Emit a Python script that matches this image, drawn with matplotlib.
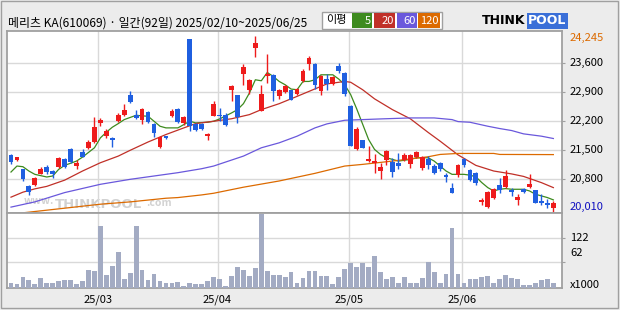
import matplotlib.pyplot as plt
from matplotlib.patches import Rectangle

plt.rcParams['font.family'] = ['Noto Sans CJK KR', 'DejaVu Sans']

# Datos (92 dias, 2025/02/10 ~ 2025/06/25)
title = "메리츠 KA(610069) · 일간(92일) 2025/02/10~2025/06/25"

opens = [21384, 21272, 21040, 20640, 20664, 20936, 21096, 21000, 21096, 21296,
         21536, 21112, 21456, 21544, 21696, 22152, 21856, 21800, 22200, 22344,
         22840, 22360, 22240, 22416, 22144, 21576, 21840, 22320, 22504, 22160,
         24180, 22144, 22136, 21856, 22336, 22360, 22360, 22944, 22824, 23344,
         22960, 23976, 22456, 23296, 23320, 22816, 22912, 22944, 22856, 23160,
         23576, 23584, 22936, 23224, 23096, 23536, 23368, 22576, 21520, 21736,
         21240, 21200, 21000, 21256, 21224, 21184, 21256, 21168, 21344, 21072,
         21296, 21120, 21184, 20904, 20584, 20904, 21280, 21016, 20960, 20256,
         20136, 20352, 20656, 20616, 20536, 20304, 20560, 20608, 20536, 20280,
         20240, 20120]
highs = [21400, 21350, 21060, 20670, 20850, 21096, 21136, 21020, 21336, 21320,
         21560, 21256, 21520, 21760, 22296, 22280, 22024, 21810, 22400, 22624,
         22936, 22480, 22520, 22440, 22160, 21840, 21850, 22496, 22528, 22336,
         24180, 22160, 22150, 21920, 22696, 22520, 22400, 23064, 22840, 23584,
         23220, 24245, 23080, 23816, 23340, 22980, 23080, 22960, 23000, 23456,
         23784, 23600, 23320, 23344, 23280, 23600, 23380, 22590, 22056, 21750,
         21600, 21400, 21184, 21496, 21304, 21424, 21440, 21400, 21472, 21360,
         21360, 21160, 21216, 20960, 20704, 21176, 21304, 21040, 20984, 20360,
         20520, 20600, 20840, 21016, 20592, 20440, 20600, 20920, 20552, 20440,
         20336, 20280]
lows = [21160, 21250, 20760, 20424, 20650, 20920, 20920, 20840, 21080, 21080,
        21200, 21040, 21330, 21530, 21680, 22096, 21800, 21576, 22190, 22330,
        22640, 22260, 22136, 22160, 21816, 21560, 21780, 22300, 22160, 22120,
        21960, 21960, 22000, 21744, 22320, 22200, 22096, 22696, 22160, 23080,
        22864, 23760, 22440, 23120, 22680, 22736, 22880, 22704, 22840, 23150,
        23440, 22984, 22840, 22960, 23072, 23360, 22816, 21600, 21504, 21552,
        21216, 20944, 20800, 21136, 20856, 21040, 21240, 21072, 21320, 21024,
        21040, 20920, 21000, 20736, 20464, 20856, 21104, 20760, 20656, 20184,
        20112, 20320, 20480, 20600, 20400, 20184, 20480, 20592, 20224, 20184,
        20120, 20010]
closes = [21216, 21336, 20800, 20504, 20824, 21040, 20976, 20920, 21320, 21104,
          21216, 21200, 21344, 21696, 22064, 22240, 21960, 21744, 22360, 22480,
          22656, 22272, 22504, 22176, 21920, 21824, 21792, 22456, 22176, 22304,
          22096, 21984, 22016, 21904, 22624, 22320, 22120, 23040, 22296, 23496,
          23200, 24080, 22864, 23344, 22936, 22960, 23056, 22704, 22984, 23416,
          23736, 23064, 23296, 23104, 23256, 23400, 22856, 21600, 22024, 21552,
          21280, 21232, 21096, 21472, 20976, 21120, 21376, 21376, 21456, 21344,
          21144, 20944, 21040, 20864, 20480, 21144, 21136, 20784, 20720, 20304,
          20496, 20576, 20544, 20880, 20504, 20376, 20504, 20680, 20240, 20240,
          20184, 20224]
volumes = [11, 9, 26, 19, 9, 23, 10, 11, 15, 18, 19, 9, 16, 43, 40, 150, 31, 53, 87, 21,
           36, 150, 43, 19, 33, 16, 10, 12, 14, 3, 11, 9, 9, 16, 26, 21, 4, 28, 50, 43,
           28, 48, 179, 40, 31, 31, 26, 38, 11, 23, 40, 40, 28, 28, 9, 26, 45, 60, 50, 60,
           50, 77, 38, 21, 26, 11, 26, 10, 11, 23, 62, 38, 11, 33, 145, 33, 11, 21, 21, 26,
           28, 11, 21, 31, 23, 21, 6, 6, 11, 19, 21, 11]

# Promedios moviles (indice, valor)
ma5_x = [0, 1, 2, 3, 4, 6, 7, 8, 9, 11, 12, 14, 15, 16, 17, 18, 19, 21, 22, 23, 24, 25, 26, 28,
         29, 30, 31, 33, 34, 35, 37, 38, 39, 40, 41, 42, 43, 44, 45, 46, 47, 48, 49, 50, 51,
         52, 54, 55, 56, 57, 58, 59, 60, 61, 62, 63, 65, 67, 68, 70, 71, 72, 73, 74, 75, 76,
         77, 78, 79, 80, 81, 82, 83, 84, 85, 86, 87, 88, 89, 90, 91]
ma5_y = [20976, 21120, 21104, 21000, 20920, 20856, 20880, 21040, 21136, 21240, 21336, 21560,
         21800, 21936, 22056, 22144, 22240, 22344, 22330, 22320, 22200, 22080, 22040, 22040,
         22120, 22200, 22160, 22176, 22200, 22256, 22400, 22480, 22624, 22880, 23200, 23176,
         23376, 23280, 23160, 23080, 22976, 22960, 23160, 23160, 23200, 23320, 23320, 23216,
         23080, 22840, 22500, 22130, 21760, 21520, 21400, 21320, 21240, 21280, 21320, 21320,
         21240, 21120, 21000, 20920, 20920, 20920, 20900, 20860, 20720, 20600, 20520, 20560,
         20576, 20560, 20560, 20560, 20520, 20440, 20400, 20360, 20304]
ma20_x = [0, 2, 4, 6, 9, 12, 15, 18, 20, 23, 26, 29, 31, 34, 37, 40, 42, 45, 48, 51, 53, 56,
          57, 59, 61, 64, 67, 70, 72, 75, 78, 81, 84, 86, 89, 91]
ma20_y = [20370, 20490, 20570, 20630, 20780, 21000, 21200, 21360, 21500, 21700, 21880, 22040,
          22144, 22200, 22260, 22360, 22480, 22624, 22800, 22980, 23100, 23160, 23140, 22960,
          22740, 22480, 22260, 21930, 21720, 21390, 21136, 21000, 20930, 20870, 20720, 20600]
ma60_x = [0, 4, 9, 15, 20, 26, 28, 32, 34, 39, 42, 45, 48, 51, 53, 56, 59, 62, 67, 71, 74, 75,
          77, 80, 82, 84, 86, 89, 91]
ma60_y = [20130, 20256, 20480, 20680, 20800, 20920, 20960, 21056, 21120, 21360, 21560, 21680,
          21840, 22040, 22136, 22224, 22240, 22256, 22280, 22280, 22240, 22192, 22176, 22080,
          22024, 21976, 21896, 21840, 21784]
ma120_x = [0, 9, 15, 20, 26, 28, 32, 34, 39, 45, 51, 56, 59, 64, 70, 72, 75, 81, 82, 91]
ma120_y = [19960, 20104, 20200, 20256, 20344, 20360, 20424, 20464, 20610, 20760, 20944, 21120,
           21160, 21240, 21344, 21400, 21424, 21424, 21400, 21396]

price_ticks = [23600, 22900, 22200, 21500, 20800]
price_labels = ["23,600", "22,900", "22,200", "21,500", "20,800"]
vol_ticks = [122, 62]
month_idx = [15, 35, 57, 76]
month_labels = ["25/03", "25/04", "25/05", "25/06"]
ma_names = ["5", "20", "60", "120"]

# Colores
c_up = '#ee1b1b'
c_down = '#1f5fe0'
c_ma = ['#3d8a1e', '#c03028', '#6a58dc', '#dc6a00']
c_grid = '#d9d9d9'
c_spine = '#a0a0a0'
fs = 8

fig = plt.figure(figsize=(6.2, 3.1), dpi=100, facecolor='#ececec')
W, H = 620.0, 310.0
ax = fig.add_axes([7 / W, 1 - 212.5 / H, 555 / W, 181.5 / H])
axv = fig.add_axes([7 / W, 1 - 287.5 / H, 555 / W, 75 / H])

n = len(closes)
xs = list(range(n))

# Velas
for i in xs:
    col = c_up if closes[i] >= opens[i] else c_down
    ax.vlines(i, lows[i], highs[i], color=col, lw=1, zorder=3)
    bot = min(opens[i], closes[i])
    h = max(abs(closes[i] - opens[i]), 30)
    ax.bar(i, h, bottom=bot, width=0.8, color=col, lw=0, zorder=4)

# Promedios moviles
for mx, my, c in zip([ma5_x, ma20_x, ma60_x, ma120_x], [ma5_y, ma20_y, ma60_y, ma120_y], c_ma):
    ax.plot(mx, my, color=c, lw=0.9, zorder=2)

# Volumen
axv.bar(xs, volumes, width=0.8, color='#a3abc3', lw=0, zorder=3)

grid_x = [m - 0.35 for m in month_idx]
for a in [ax, axv]:
    a.set_xlim(-0.67, 92.45)
    for s in a.spines.values():
        s.set_color(c_spine)
        s.set_linewidth(1.3)
    for gx in grid_x:
        a.axvline(gx, color=c_grid, lw=1, zorder=1)
    a.yaxis.tick_right()
    a.tick_params(axis='y', length=2, color=c_spine, labelright=False)

ax.set_ylim(20000, 24376)
ax.set_yticks(price_ticks)
for t in price_ticks:
    ax.axhline(t, color=c_grid, lw=1, zorder=1)
ax.set_xticks([])

axv.set_ylim(0, 183.5)
axv.set_yticks(vol_ticks)
for t in vol_ticks:
    axv.axhline(t, color=c_grid, lw=1, zorder=1)
axv.set_xticks(grid_x)
axv.set_xticklabels(month_labels, fontsize=fs)
axv.tick_params(axis='x', length=0, pad=5)

# Etiquetas del eje derecho
lx = (570 - 7) / 555.0
for t, lab in zip(price_ticks, price_labels):
    ax.text(lx, t, lab, transform=ax.get_yaxis_transform(), ha='left', va='center',
            fontsize=fs, clip_on=False)
ax.annotate("24,245", (lx, max(highs)), xycoords=ax.get_yaxis_transform(),
            xytext=(0, -2), textcoords='offset pixels', ha='left', va='center',
            fontsize=fs, color='#dc6a00', annotation_clip=False)
ax.annotate("20,010", (lx, min(lows)), xycoords=ax.get_yaxis_transform(),
            xytext=(0, 5), textcoords='offset pixels', ha='left', va='center',
            fontsize=fs, color='#1010c0', annotation_clip=False)
axv.annotate("122", (lx, 122), xycoords=axv.get_yaxis_transform(), ha='left', va='center',
             fontsize=fs, annotation_clip=False)
axv.annotate("62", (lx, 62), xycoords=axv.get_yaxis_transform(), xytext=(0, 9),
             textcoords='offset pixels', ha='left', va='center', fontsize=fs,
             annotation_clip=False)
fig.text(570 / W, 1 - 285 / H, "x1000", ha='left', va='center', fontsize=fs)

# Marca de agua
ax.text(47 / 555, 0.035, "www.", transform=ax.transAxes, fontsize=7.5, color='#d2d2d2',
        fontweight='bold', ha='right', va='bottom', zorder=0)
ax.text(48 / 555, 0.01, "THINKPOOL", transform=ax.transAxes, fontsize=9.5, color='#d2d2d2',
        fontweight='bold', ha='left', va='bottom', family='DejaVu Sans', zorder=0)
ax.text(139 / 555, 0.025, ".com", transform=ax.transAxes, fontsize=7.5, color='#d2d2d2',
        fontweight='bold', ha='left', va='bottom', zorder=0)

# Titulo
fig.text(8 / W, 1 - 23 / H, title, ha='left', va='center', fontsize=8.6)

# Leyenda
fig.add_artist(Rectangle((322 / W, 1 - 29 / H), 120 / W, 17 / H, transform=fig.transFigure,
                         facecolor='white', edgecolor=c_spine, lw=1))
fig.text(326 / W, 1 - 20.5 / H, "이평", ha='left', va='center', fontsize=fs)
box_x = [352, 374, 397, 418]
box_w = [20, 21, 20, 22]
for bx, bw, c, lab in zip(box_x, box_w, c_ma, ma_names):
    fig.add_artist(Rectangle((bx / W, 1 - 27.5 / H), bw / W, 14 / H,
                             transform=fig.transFigure, facecolor=c, lw=0))
    fig.text((bx + bw - 1) / W, 1 - 20.5 / H, lab, ha='right', va='center', fontsize=fs,
             color='white')

# Logo
fig.text(482 / W, 1 - 21 / H, "THINK", ha='left', va='center', fontsize=9,
         fontweight='bold', family='DejaVu Sans', color='black')
fig.text(528 / W, 1 - 21 / H, "POOL", ha='left', va='center', fontsize=9,
         fontweight='bold', family='DejaVu Sans', color='white',
         bbox=dict(boxstyle='square,pad=0.1', facecolor='#3a6fd8', edgecolor='none'))

# Borde exterior
fig.add_artist(Rectangle((1 / W, 1 - 308 / H), 617 / W, 307 / H, transform=fig.transFigure,
                         facecolor='none', edgecolor=c_spine, lw=1))

fig.savefig('out.png', dpi=100, facecolor=fig.get_facecolor())
